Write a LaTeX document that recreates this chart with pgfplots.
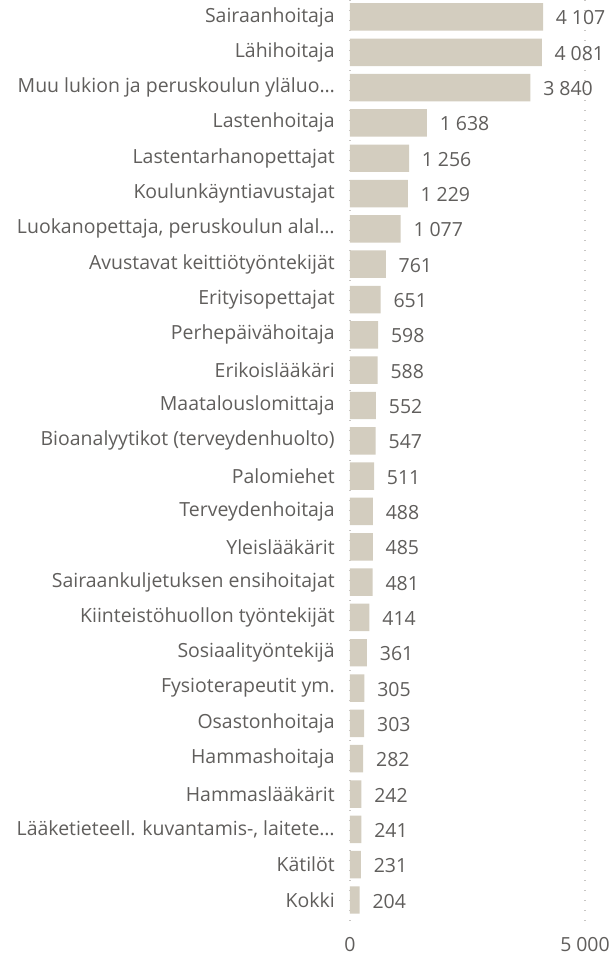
\documentclass[border=0pt]{standalone}
\usepackage{pgfplots}
\pgfplotsset{compat=1.18}
\usepackage{fontspec}
\setmainfont{Open Sans}
\definecolor{barfill}{HTML}{D3CDBF}
\definecolor{labelgray}{HTML}{605E5C}
\definecolor{gridgray}{HTML}{C8C6C4}

\begin{document}
\begin{tikzpicture}
\begin{axis}[
    at={(0,0)}, anchor=north west,
    scale only axis,
    width=176.25pt, height=697.5pt,
    xbar, bar width=20.6pt,
    xmin=0, xmax=5000,
    ymin=-0.48, ymax=25.85,
    y dir=reverse,
    axis line style={draw=none},
    major tick length=0pt,
    scaled x ticks=false,
    xtick={0,5000},
    ytick={0,...,25},
    yticklabels={Sairaanhoitaja, Lähihoitaja, Muu lukion ja peruskoulun yläluo…, Lastenhoitaja,
        Lastentarhanopettajat, Koulunkäyntiavustajat, {Luokanopettaja, peruskoulun alal…},
        Avustavat keittiötyöntekijät, Erityisopettajat, Perhepäivähoitaja, Erikoislääkäri,
        Maatalouslomittaja, Bioanalyytikot (terveydenhuolto), Palomiehet, Terveydenhoitaja,
        Yleislääkärit, Sairaankuljetuksen ensihoitajat, Kiinteistöhuollon työntekijät,
        Sosiaalityöntekijä, Fysioterapeutit ym., Osastonhoitaja, Hammashoitaja,
        Hammaslääkärit, {Lääketieteell. kuvantamis-, laitete…}, Kätilöt, Kokki},
    /pgf/number format/assume math mode=true,
    /pgf/number format/1000 sep={\hspace{0.25em}},
    tick label style={font=\fontsize{14.6}{17}\selectfont, text=labelgray, inner sep=0pt},
    yticklabel style={anchor=east, xshift=-11.25pt},
    xticklabel style={anchor=center, yshift=-11.25pt},
    xmajorgrids,
    grid style={gridgray, line width=1pt, dash pattern=on 1pt off 6.5pt},
    nodes near coords,
    every node near coord/.append style={anchor=west, inner sep=0pt, xshift=9.5pt, yshift=-0.8pt,
        font=\fontsize{14.6}{17}\selectfont, text=labelgray},
]
\addplot[fill=barfill, draw=none] coordinates {
    (4107,0) (4081,1) (3840,2) (1638,3) (1256,4) (1229,5) (1077,6) (761,7)
    (651,8) (598,9) (588,10) (552,11) (547,12) (511,13) (488,14) (485,15)
    (481,16) (414,17) (361,18) (305,19) (303,20) (282,21) (242,22) (241,23)
    (231,24) (204,25)
};
\end{axis}
\pgfresetboundingbox
\path (-262.5pt,0pt) rectangle (197.25pt,-720pt);
\end{tikzpicture}
\end{document}
